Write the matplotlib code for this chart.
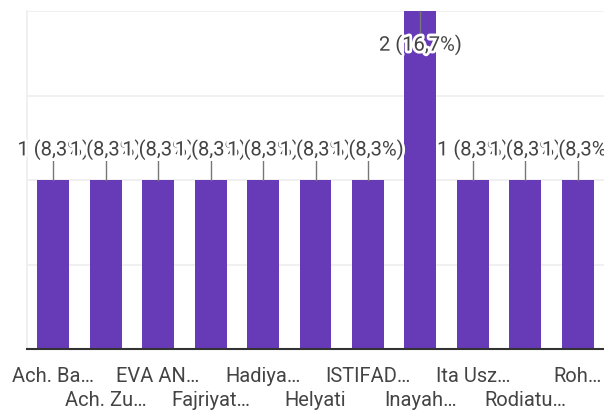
import matplotlib.pyplot as plt
import matplotlib.patheffects as pe

names = ["Ach. Ba…", "Ach. Zu…", "EVA AN…", "Fajriyat…", "Hadiya…", "Helyati",
         "ISTIFAD…", "Inayah…", "Ita Usz…", "Rodiatu…", "Roh…"]
counts = [1, 1, 1, 1, 1, 1, 1, 2, 1, 1, 1]
percents = ["8,3%", "8,3%", "8,3%", "8,3%", "8,3%", "8,3%", "8,3%", "16,7%",
            "8,3%", "8,3%", "8,3%"]

plt.rcParams['font.family'] = ['Roboto', 'DejaVu Sans']

fig = plt.figure(figsize=(6.04, 4.12), dpi=100)
ax = fig.add_axes([27 / 604, 63 / 412, 577 / 604, 338 / 412])

x = list(range(len(names)))
ax.bar(x, counts, width=0.61, color='#673AB7', zorder=2)

ax.set_xlim(-0.5, len(names) - 0.5)
ax.set_ylim(0, 2)
ax.set_yticks([0, 0.5, 1, 1.5, 2])
ax.yaxis.grid(True, color='#eeeeee', linewidth=1.2, zorder=0)
ax.tick_params(left=False, labelleft=False, bottom=False, labelbottom=False)
for s in ['top', 'right']:
    ax.spines[s].set_visible(False)
ax.spines['left'].set_color('#eeeeee')
ax.spines['left'].set_linewidth(1.2)
ax.spines['bottom'].set_color('#333333')
ax.spines['bottom'].set_linewidth(1.5)
ax.spines['bottom'].set_zorder(3)

halo = [pe.withStroke(linewidth=4, foreground='white')]
top = max(counts)
for i, (c, p) in enumerate(zip(counts, percents)):
    if c >= top:
        ly, l0, l1 = c - 0.2, c, c - 0.14
    else:
        ly, l0, l1 = c + 0.18, c, c + 0.11
    ax.plot([i, i], [l0, l1], color='#777777', linewidth=1, zorder=3, clip_on=False)
    ax.text(i, ly, f"{c} ({p})", ha='center', va='center', fontsize=14.5,
            color='#444444', path_effects=halo, zorder=4 + i, clip_on=False)

# category labels on two staggered rows
for i, n in enumerate(names):
    yy = -0.165 if i % 2 == 0 else -0.305
    ax.text(i, yy, n, ha='center', va='center', fontsize=14.5, color='#444444',
            clip_on=False)

fig.savefig('out.png', dpi=100)
